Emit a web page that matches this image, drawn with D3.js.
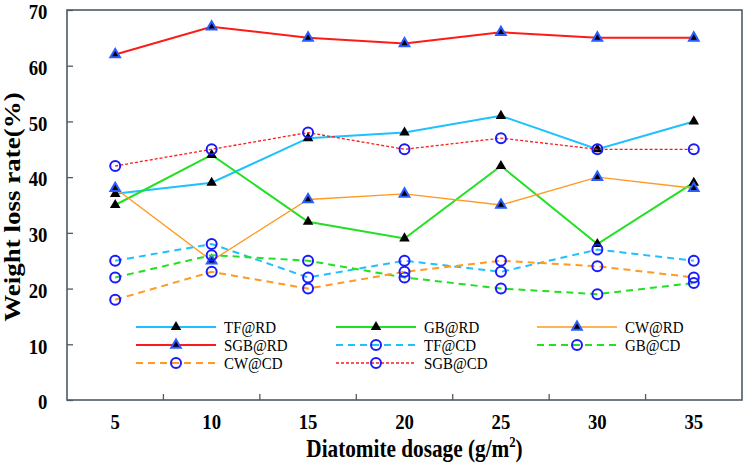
<!DOCTYPE html>
<html><head><meta charset="utf-8">
<script src="https://cdn.jsdelivr.net/npm/d3@7"></script>
<style>html,body{margin:0;padding:0;background:#fff;}svg{display:block;}</style>
</head><body>
<svg id="chart" width="746" height="466"></svg>
<script>
const categories = ["5","10","15","20","25","30","35"];
const yTicks = [0,10,20,30,40,50,60,70];
const tfRD  = [37,39,47,48,51,45,50];
const gbRD  = [35,44,32,29,42,28,39];
const cwRD  = [38,25,36,37,35,40,38];
const sgbRD = [62,67,65,64,66,65,65];
const tfCD  = [25,28,22,25,23,27,25];
const gbCD  = [22,26,25,22,20,19,21];
const cwCD  = [18,23,20,23,25,24,22];
const sgbCD = [42,45,48,45,47,45,45];
const seriesNames = ["TF@RD","GB@RD","CW@RD","SGB@RD","TF@CD","GB@CD","CW@CD","SGB@CD"];

const COL = {tf:"#1ec0ff", gb:"#22e022", cw:"#ff9a22", sgb:"#ff1a1a"};
const series = [
  {name:"TF@RD", v:tfRD, color:COL.tf, w:2, dash:null, mk:"tri"},
  {name:"GB@RD", v:gbRD, color:COL.gb, w:2, dash:null, mk:"tri"},
  {name:"CW@RD", v:cwRD, color:COL.cw, w:1.4, dash:null, mk:"triB"},
  {name:"SGB@RD", v:sgbRD, color:COL.sgb, w:2, dash:null, mk:"triB"},
  {name:"TF@CD", v:tfCD, color:COL.tf, w:2, dash:"7,5", mk:"circ"},
  {name:"GB@CD", v:gbCD, color:COL.gb, w:2, dash:"7,5", mk:"circ"},
  {name:"CW@CD", v:cwCD, color:COL.cw, w:2, dash:"7,5", mk:"circ"},
  {name:"SGB@CD", v:sgbCD, color:COL.sgb, w:1.3, dash:"3,2", mk:"circ"}
];

const L=67, R=742, T=10, B=400;
const SX = 0.85;
const FONT = "'Liberation Serif','Times New Roman',serif";
const svg = d3.select("#chart");
const x = d3.scaleBand().domain(categories).range([L,R]).padding(0);
const y = d3.scaleLinear().domain([0,70]).range([B,T]);
const xc = c => x(c) + x.bandwidth()/2;
const AX = "#4d5b66";

// Y axis
const gy = svg.append("g").attr("transform",`translate(${L},0)`)
  .call(d3.axisLeft(y).tickValues(yTicks).tickSize(-6).tickPadding(23));
gy.select(".domain").remove();
gy.selectAll(".tick line").attr("stroke",AX).attr("stroke-width",1.3);
gy.selectAll(".tick text").attr("font-family",FONT).attr("font-weight","bold")
  .attr("font-size",22).attr("dy","0.4em").attr("fill","#000").attr("transform",`scale(${SX},1)`);

// X axis labels
const gx = svg.append("g").attr("transform",`translate(0,${B})`)
  .call(d3.axisBottom(x).tickSize(0).tickPadding(13));
gx.select(".domain").remove();
gx.selectAll(".tick text").attr("font-family",FONT).attr("font-weight","bold")
  .attr("font-size",22).attr("fill","#000").attr("transform",`scale(${SX},1)`);

// X tick marks at band boundaries
svg.append("g").selectAll("line").data(categories.slice(1)).join("line")
  .attr("x1",d=>x(d)).attr("x2",d=>x(d)).attr("y1",B).attr("y2",B-6)
  .attr("stroke",AX).attr("stroke-width",1.3);

// Frame
svg.append("rect").attr("x",L).attr("y",T).attr("width",R-L).attr("height",B-T)
  .attr("fill","none").attr("stroke",AX).attr("stroke-width",1.6);

// Marker drawing
const triBlack = d3.symbol(d3.symbolTriangle).size(48);
const triBlue = d3.symbol(d3.symbolTriangle).size(40);
function drawMarker(g, mk, cx, cy){
  if(mk==="tri"){
    g.append("path").attr("d",triBlack()).attr("transform",`translate(${cx},${cy})`).attr("fill","#000");
  } else if(mk==="triB"){
    g.append("path").attr("d",triBlue()).attr("transform",`translate(${cx},${cy})`)
      .attr("fill","#000").attr("stroke","#2a5cff").attr("stroke-width",2);
  } else {
    g.append("circle").attr("cx",cx).attr("cy",cy).attr("r",5)
      .attr("fill","none").attr("stroke","#1a1aff").attr("stroke-width",2);
  }
}

const line = d3.line().x((d,i)=>xc(categories[i])).y(d=>y(d));
series.forEach(s=>{
  const g = svg.append("g");
  g.append("path").attr("d",line(s.v)).attr("fill","none").attr("stroke",s.color)
    .attr("stroke-width",s.w).attr("stroke-dasharray",s.dash);
  s.v.forEach((v,i)=>drawMarker(g,s.mk,xc(categories[i]),y(v)));
});

// Legend
const colX = [136,336,537], rowY = [327,345,363];
series.forEach((s,i)=>{
  const lx = colX[i%3], ly = rowY[Math.floor(i/3)];
  const g = svg.append("g");
  g.append("line").attr("x1",lx).attr("x2",lx+80).attr("y1",ly).attr("y2",ly)
    .attr("stroke",s.color).attr("stroke-width",s.w).attr("stroke-dasharray",s.dash);
  drawMarker(g,s.mk,lx+40,ly);
  g.append("text").attr("transform",`translate(${lx+88},${ly}) scale(0.88,1)`)
    .attr("dy","0.35em").attr("font-family",FONT).attr("font-size",17).attr("fill","#000")
    .text(seriesNames[i]);
});

// Axis titles
const xt = svg.append("text").attr("transform",`translate(${(L+R)/2+10},457) scale(${SX},1)`)
  .attr("text-anchor","middle").attr("font-family",FONT).attr("font-weight","bold")
  .attr("font-size",25).attr("fill","#000");
xt.append("tspan").text("Diatomite dosage (g/m");
xt.append("tspan").attr("font-size",15).attr("dy",-10).text("2");
xt.append("tspan").attr("dy",10).text(")");

svg.append("text").attr("transform",`translate(20,207) scale(${SX},1) rotate(-90)`)
  .attr("text-anchor","middle").attr("font-family",FONT).attr("font-weight","bold")
  .attr("font-size",27).attr("fill","#000").text("Weight loss rate(%)");
</script>
</body></html>
